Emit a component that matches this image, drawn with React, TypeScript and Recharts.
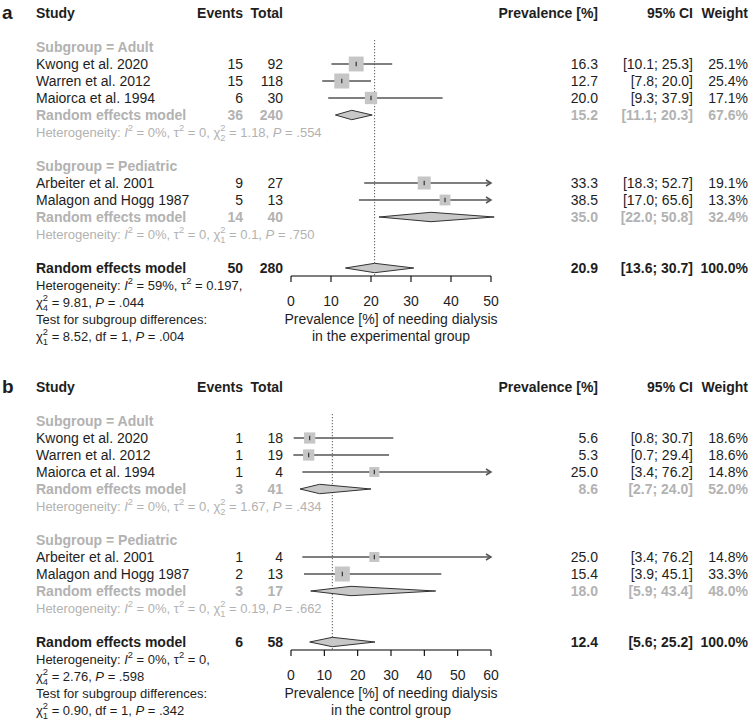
import React from 'react';
import { ComposedChart, Scatter, XAxis, YAxis, ReferenceLine, ErrorBar } from 'recharts';

const FONT = '"Liberation Sans", Arial, Helvetica, sans-serif';
const INK = '#1e1e1e';
const GREY = '#b2b2b2';
const LINE = '#555555';
const BOX = '#c6c6c6';

const STUDIES = ['Kwong et al. 2020', 'Warren et al. 2012', 'Maiorca et al. 1994', 'Arbeiter et al. 2001', 'Malagon and Hogg 1987'];
const STUDY_GROUP = [0, 0, 0, 1, 1];
const SUBGROUPS = ['Adult', 'Pediatric'];
const SUB_DF = [2, 1];

// a: experimental group
const A_EVENTS = [15, 15, 6, 9, 5];
const A_TOTAL = [92, 118, 30, 27, 13];
const A_PREV = [16.3, 12.7, 20.0, 33.3, 38.5];
const A_LOW = [10.1, 7.8, 9.3, 18.3, 17.0];
const A_HIGH = [25.3, 20.0, 37.9, 52.7, 65.6];
const A_WEIGHT = [25.1, 25.4, 17.1, 19.1, 13.3];
const A_SUB_EVENTS = [36, 14];
const A_SUB_TOTAL = [240, 40];
const A_SUB_PREV = [15.2, 35.0];
const A_SUB_LOW = [11.1, 22.0];
const A_SUB_HIGH = [20.3, 50.8];
const A_SUB_WEIGHT = [67.6, 32.4];
const A_SUB_I2 = ['0%', '0%'];
const A_SUB_TAU2 = ['0', '0'];
const A_SUB_Q = ['1.18', '0.1'];
const A_SUB_P = ['.554', '.750'];
const A_OVERALL = { events: 50, total: 280, prev: 20.9, low: 13.6, high: 30.7, weight: 100.0 };
const A_OVERALL_HET = { i2: '59%', tau2: '0.197', df: 4, q: '9.81', p: '.044' };
const A_TEST = { q: '8.52', df: 1, p: '.004' };
const A_TICKS = [0, 10, 20, 30, 40, 50];
const A_TITLE = ['Prevalence [%] of needing dialysis', 'in the experimental group'];

// b: control group
const B_EVENTS = [1, 1, 1, 1, 2];
const B_TOTAL = [18, 19, 4, 4, 13];
const B_PREV = [5.6, 5.3, 25.0, 25.0, 15.4];
const B_LOW = [0.8, 0.7, 3.4, 3.4, 3.9];
const B_HIGH = [30.7, 29.4, 76.2, 76.2, 45.1];
const B_WEIGHT = [18.6, 18.6, 14.8, 14.8, 33.3];
const B_SUB_EVENTS = [3, 3];
const B_SUB_TOTAL = [41, 17];
const B_SUB_PREV = [8.6, 18.0];
const B_SUB_LOW = [2.7, 5.9];
const B_SUB_HIGH = [24.0, 43.4];
const B_SUB_WEIGHT = [52.0, 48.0];
const B_SUB_I2 = ['0%', '0%'];
const B_SUB_TAU2 = ['0', '0'];
const B_SUB_Q = ['1.67', '0.19'];
const B_SUB_P = ['.434', '.662'];
const B_OVERALL = { events: 6, total: 58, prev: 12.4, low: 5.6, high: 25.2, weight: 100.0 };
const B_OVERALL_HET = { i2: '0%', tau2: '0', df: 4, q: '2.76', p: '.598' };
const B_TEST = { q: '0.90', df: 1, p: '.342' };
const B_TICKS = [0, 10, 20, 30, 40, 50, 60];
const B_TITLE = ['Prevalence [%] of needing dialysis', 'in the control group'];

// layout
const W = 752;
const H = 346;
const PLOT_L = 291;
const PLOT_R = 491;
const AXIS_Y = 276;
const ROW_H = 17;
const ROW0 = 13;
const Y_MIN = -ROW0 / ROW_H;
const Y_MAX = (AXIS_Y - ROW0) / ROW_H;
const COL = { letter: 2, label: 36, events: 243, total: 283, prev: 598, ci: 693, weight: 748 };
const MAX_BOX = 15;
const SMALL = 13;

const fmt = (v: number) => v.toFixed(1);
const ciText = (lo: number, hi: number) => `[${fmt(lo)}; ${fmt(hi)}]`;
const pct = (w: number) => `${fmt(w)}%`;

type Piece = { t: string; it?: boolean; sm?: boolean; sh?: number; dx?: number };

function spans(pieces: Piece[], fs: number) {
  let prev = 0;
  return pieces.map((p, k) => {
    const sh = (p.sh ?? 0) * fs;
    const dy = sh - prev;
    prev = sh;
    return (
      <tspan
        key={k}
        dy={dy ? dy : undefined}
        dx={p.dx ? p.dx * fs : undefined}
        fontSize={p.sm ? fs * 0.72 : undefined}
        fontStyle={p.it ? 'italic' : undefined}
      >
        {p.t}
      </tspan>
    );
  });
}

const sup = (t: string): Piece => ({ t, sm: true, sh: -0.4 });
const chi = (df: number): Piece[] => [
  { t: 'χ' },
  { t: '2', sm: true, sh: -0.4 },
  { t: String(df), sm: true, sh: 0.32, dx: -0.72 * 0.556 },
];

function hetPieces(h: any): Piece[] {
  return [
    { t: 'Heterogeneity: ' }, { t: 'I', it: true }, sup('2'),
    { t: ` = ${h.i2}, τ` }, sup('2'), { t: ` = ${h.tau2}, ` },
    ...chi(h.df), { t: ` = ${h.q}, ` }, { t: 'P', it: true }, { t: ` = ${h.p}` },
  ];
}

function Txt({ x, y, anchor = 'start', size = 14, bold = false, fill = INK, children }: any) {
  return (
    <text x={x} y={y} textAnchor={anchor} fontSize={size} fontWeight={bold ? 'bold' : 'normal'}
      fill={fill} fontFamily={FONT} style={{ whiteSpace: 'pre' }}>
      {children}
    </text>
  );
}

function RowShape(props: any) {
  const { cx, cy, payload: d } = props;
  const b = cy + 5;
  if (d.kind === 'head') {
    return (
      <g>
        <Txt x={COL.letter} y={cy + 6} size={19} bold>{d.letter}</Txt>
        <Txt x={COL.label} y={b} bold>Study</Txt>
        <Txt x={COL.events} y={b} anchor="end" bold>Events</Txt>
        <Txt x={COL.total} y={b} anchor="end" bold>Total</Txt>
        <Txt x={COL.prev} y={b} anchor="end" bold>Prevalence [%]</Txt>
        <Txt x={COL.ci} y={b} anchor="end" bold>95% CI</Txt>
        <Txt x={COL.weight} y={b} anchor="end" bold>Weight</Txt>
      </g>
    );
  }
  if (d.kind === 'sub') {
    return <Txt x={COL.label} y={b} bold fill={GREY}>{d.label}</Txt>;
  }
  if (d.kind === 'het') {
    return (
      <text x={COL.label} y={cy + 4.5} fontSize={SMALL} fill={GREY} fontFamily={FONT} style={{ whiteSpace: 'pre' }}>
        {spans(hetPieces(d.het), SMALL)}
      </text>
    );
  }
  if (d.kind === 'title') {
    return (
      <g>
        {d.lines.map((l: string, k: number) => (
          <Txt key={k} x={cx} y={cy + 47.5 + k * 17} anchor="middle">{l}</Txt>
        ))}
      </g>
    );
  }
  const bold = d.kind !== 'study';
  const fill = d.kind === 'pool' ? GREY : INK;
  const cols = (
    <g>
      <Txt x={COL.label} y={b} bold={bold} fill={fill}>{d.label}</Txt>
      <Txt x={COL.events} y={b} anchor="end" bold={bold} fill={fill}>{d.events}</Txt>
      <Txt x={COL.total} y={b} anchor="end" bold={bold} fill={fill}>{d.total}</Txt>
      <Txt x={COL.prev} y={b} anchor="end" bold={bold} fill={fill}>{fmt(d.prev)}</Txt>
      <Txt x={COL.ci} y={b} anchor="end" bold={bold} fill={fill}>{ciText(d.low, d.high)}</Txt>
      <Txt x={COL.weight} y={b} anchor="end" bold={bold} fill={fill}>{pct(d.weight)}</Txt>
    </g>
  );
  if (d.kind !== 'overall') return cols;
  const fs = SMALL;
  const h = d.het;
  const t = d.test;
  const foot: Piece[][] = [
    [{ t: 'Heterogeneity: ' }, { t: 'I', it: true }, sup('2'), { t: ` = ${h.i2}, τ` }, sup('2'), { t: ` = ${h.tau2},` }],
    [...chi(h.df), { t: ` = ${h.q}, ` }, { t: 'P', it: true }, { t: ` = ${h.p}` }],
    [{ t: 'Test for subgroup differences:' }],
    [...chi(t.df), { t: ` = ${t.q}, df = ${t.df}, ` }, { t: 'P', it: true }, { t: ` = ${t.p}` }],
  ];
  return (
    <g>
      {cols}
      {foot.map((line, k) => (
        <text key={k} x={COL.label} y={cy + ROW_H * (k + 1) + 4.5} fontSize={fs} fill={INK}
          fontFamily={FONT} style={{ whiteSpace: 'pre' }}>
          {spans(line, fs)}
        </text>
      ))}
    </g>
  );
}

function BoxShape(props: any) {
  const { cx, cy, payload } = props;
  const s = payload.side;
  return (
    <g>
      <rect x={cx - s / 2} y={cy - s / 2} width={s} height={s} fill={BOX} />
      <line x1={cx} x2={cx} y1={cy - 2.2} y2={cy + 2.2} stroke="#333" strokeWidth={1.2} />
    </g>
  );
}

function ArrowShape(props: any) {
  const { cx, cy } = props;
  return (
    <path d={`M${cx - 5},${cy - 3} L${cx},${cy} L${cx - 5},${cy + 3}`} fill="none" stroke={LINE} strokeWidth={1.5} />
  );
}

const diamondShape = (frac: number) => (props: any) => {
  const { x1, y1, x2, y2 } = props;
  const xm = x1 + (x2 - x1) * frac;
  const hh = 4.7;
  return (
    <polygon points={`${x1},${y1} ${xm},${y1 - hh} ${x2},${y2} ${xm},${y1 + hh}`}
      fill="#c8c8c8" stroke="#333" strokeWidth={1} />
  );
};

function ForestPanel({ d, letter, ticks, title }: any) {
  const xMax = ticks[ticks.length - 1];
  const maxW = Math.max(...d.weight);
  const rows: any[] = [{ x: 0, y: 0, kind: 'head', letter }];
  const boxes: any[] = [];
  const arrows: any[] = [];
  const pooled: any[] = [];
  let r = 2;
  SUBGROUPS.forEach((g, gi) => {
    rows.push({ x: 0, y: r, kind: 'sub', label: `Subgroup = ${g}` });
    r++;
    STUDIES.forEach((name, i) => {
      if (STUDY_GROUP[i] !== gi) return;
      rows.push({
        x: 0, y: r, kind: 'study', label: name, events: d.events[i], total: d.total[i],
        prev: d.prev[i], low: d.low[i], high: d.high[i], weight: d.weight[i],
      });
      const hiClip = Math.min(d.high[i], xMax);
      boxes.push({
        x: d.prev[i], y: r, err: [d.prev[i] - d.low[i], hiClip - d.prev[i]],
        side: MAX_BOX * Math.sqrt(d.weight[i] / maxW),
      });
      if (d.high[i] > xMax) arrows.push({ x: xMax, y: r });
      r++;
    });
    rows.push({
      x: 0, y: r, kind: 'pool', label: 'Random effects model', events: d.subEvents[gi], total: d.subTotal[gi],
      prev: d.subPrev[gi], low: d.subLow[gi], high: d.subHigh[gi], weight: d.subWeight[gi],
    });
    pooled.push({ y: r, prev: d.subPrev[gi], low: d.subLow[gi], high: d.subHigh[gi] });
    r++;
    rows.push({
      x: 0, y: r, kind: 'het',
      het: { i2: d.subI2[gi], tau2: d.subTau2[gi], df: SUB_DF[gi], q: d.subQ[gi], p: d.subP[gi] },
    });
    r += 2;
  });
  const o = d.overall;
  rows.push({
    x: 0, y: r, kind: 'overall', label: 'Random effects model', events: o.events, total: o.total,
    prev: o.prev, low: o.low, high: o.high, weight: o.weight, het: d.overallHet, test: d.test,
  });
  pooled.push({ y: r, prev: o.prev, low: o.low, high: o.high });
  rows.push({ x: xMax / 2, y: Y_MAX, kind: 'title', lines: title });

  return (
    <ComposedChart width={W} height={H} margin={{ top: 0, right: W - PLOT_R, bottom: 0, left: PLOT_L }}>
      <XAxis
        type="number"
        dataKey="x"
        domain={[0, xMax]}
        ticks={ticks}
        interval={0}
        height={H - AXIS_Y}
        tickSize={6}
        tickMargin={14}
        axisLine={{ stroke: '#000', strokeWidth: 1.1 }}
        tickLine={{ stroke: '#000', strokeWidth: 1.1 }}
        tick={{ fill: INK, fontSize: 14, fontFamily: FONT }}
      />
      <YAxis type="number" dataKey="y" domain={[Y_MIN, Y_MAX]} reversed hide />
      <ReferenceLine
        segment={[{ x: o.prev, y: 1.6 }, { x: o.prev, y: Y_MAX }]}
        stroke="#333"
        strokeWidth={1}
        strokeDasharray="1 2"
        ifOverflow="visible"
      />
      {pooled.map((p, k) => (
        <ReferenceLine
          key={k}
          segment={[{ x: p.low, y: p.y }, { x: p.high, y: p.y }]}
          ifOverflow="visible"
          shape={diamondShape((p.prev - p.low) / (p.high - p.low))}
        />
      ))}
      <Scatter data={boxes} shape={BoxShape} isAnimationActive={false}>
        <ErrorBar dataKey="err" direction="x" width={0} stroke={LINE} strokeWidth={1.3} isAnimationActive={false} />
      </Scatter>
      <Scatter data={arrows} shape={ArrowShape} isAnimationActive={false} />
      <Scatter data={rows} shape={RowShape} isAnimationActive={false} />
    </ComposedChart>
  );
}

const PANEL_A = {
  events: A_EVENTS, total: A_TOTAL, prev: A_PREV, low: A_LOW, high: A_HIGH, weight: A_WEIGHT,
  subEvents: A_SUB_EVENTS, subTotal: A_SUB_TOTAL, subPrev: A_SUB_PREV, subLow: A_SUB_LOW, subHigh: A_SUB_HIGH,
  subWeight: A_SUB_WEIGHT, subI2: A_SUB_I2, subTau2: A_SUB_TAU2, subQ: A_SUB_Q, subP: A_SUB_P,
  overall: A_OVERALL, overallHet: A_OVERALL_HET, test: A_TEST,
};

const PANEL_B = {
  events: B_EVENTS, total: B_TOTAL, prev: B_PREV, low: B_LOW, high: B_HIGH, weight: B_WEIGHT,
  subEvents: B_SUB_EVENTS, subTotal: B_SUB_TOTAL, subPrev: B_SUB_PREV, subLow: B_SUB_LOW, subHigh: B_SUB_HIGH,
  subWeight: B_SUB_WEIGHT, subI2: B_SUB_I2, subTau2: B_SUB_TAU2, subQ: B_SUB_Q, subP: B_SUB_P,
  overall: B_OVERALL, overallHet: B_OVERALL_HET, test: B_TEST,
};

export default function App() {
  return (
    <div style={{ position: 'absolute', left: 0, top: 0, width: 752, height: 720, overflow: 'hidden', background: '#fff' }}>
      <div style={{ position: 'absolute', left: 0, top: 0 }}>
        <ForestPanel d={PANEL_A} letter="a" ticks={A_TICKS} title={A_TITLE} />
      </div>
      <div style={{ position: 'absolute', left: 0, top: 374 }}>
        <ForestPanel d={PANEL_B} letter="b" ticks={B_TICKS} title={B_TITLE} />
      </div>
    </div>
  );
}
